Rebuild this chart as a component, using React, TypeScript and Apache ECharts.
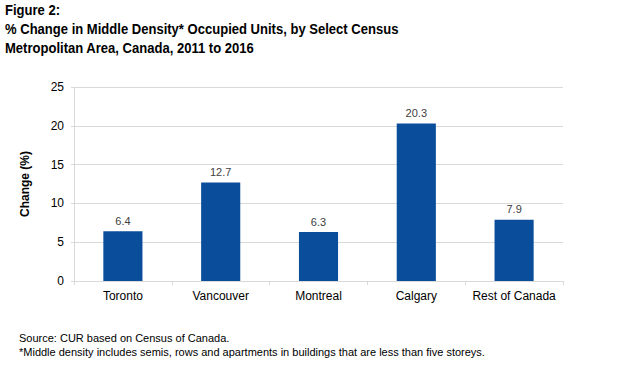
import React, { useEffect, useRef } from "react";
import * as echarts from "echarts";

const categories = ["Toronto", "Vancouver", "Montreal", "Calgary", "Rest of Canada"];
const values = [6.4, 12.7, 6.3, 20.3, 7.9];
const titleLines = [
  "Figure 2:",
  "% Change in Middle Density* Occupied Units, by Select Census",
  "Metropolitan Area, Canada, 2011 to 2016",
];
const footnotes = [
  "Source: CUR based on Census of Canada.",
  "*Middle density includes semis, rows and apartments in buildings that are less than five storeys.",
];

export default function App() {
  const ref = useRef<HTMLDivElement>(null);
  useEffect(() => {
    const chart = echarts.init(ref.current!, null, { renderer: "svg" });
    const titleGraphics = titleLines.map((t, i) => ({
      type: "text",
      x: 5,
      y: 2 + i * 19,
      scaleX: 0.87,
      style: {
        text: t,
        fontFamily: "Liberation Sans, Arial, sans-serif",
        fontSize: 15,
        fontWeight: "bold",
        fill: "#000",
        verticalAlign: "top",
      },
    }));
    const footGraphics = footnotes.map((t, i) => ({
      type: "text",
      left: 19,
      top: 332 + i * 14,
      style: {
        text: t,
        fontFamily: "Liberation Sans, Arial, sans-serif",
        fontSize: 11,
        fill: "#000",
      },
    }));
    chart.setOption({
      animation: false,
      backgroundColor: "#ffffff",
      graphic: [...titleGraphics, ...footGraphics],
      grid: { left: 74, right: 79, top: 87, bottom: 85, containLabel: false },
      xAxis: {
        type: "category",
        data: categories,
        axisLine: { lineStyle: { color: "#d9d9d9" } },
        axisTick: { show: true, length: 4, lineStyle: { color: "#d9d9d9" } },
        axisLabel: {
          interval: 0,
          color: "#000",
          fontFamily: "Liberation Sans, Arial, sans-serif",
          fontSize: 12,
          margin: 9,
        },
      },
      yAxis: {
        type: "value",
        min: 0,
        max: 25,
        interval: 5,
        name: "Change (%)",
        nameLocation: "middle",
        nameGap: 43,
        nameTextStyle: {
          fontFamily: "Liberation Sans, Arial, sans-serif",
          fontSize: 12,
          fontWeight: "bold",
          color: "#000",
        },
        axisLine: { show: true, lineStyle: { color: "#d9d9d9" } },
        axisTick: { show: true, length: 3, lineStyle: { color: "#d9d9d9" } },
        splitLine: { lineStyle: { color: "#d9d9d9" } },
        axisLabel: {
          color: "#000",
          fontFamily: "Liberation Sans, Arial, sans-serif",
          fontSize: 12,
          margin: 10,
        },
      },
      series: [
        {
          type: "bar",
          data: values,
          barWidth: "40%",
          itemStyle: { color: "#0a4d9b" },
          label: {
            show: true,
            position: "top",
            distance: 5,
            color: "#404040",
            fontFamily: "Liberation Sans, Arial, sans-serif",
            fontSize: 11,
          },
        },
      ],
    });
    return () => chart.dispose();
  }, []);
  return (
    <div
      ref={ref}
      style={{ position: "fixed", left: 0, top: 0, width: 642, height: 366 }}
    />
  );
}
